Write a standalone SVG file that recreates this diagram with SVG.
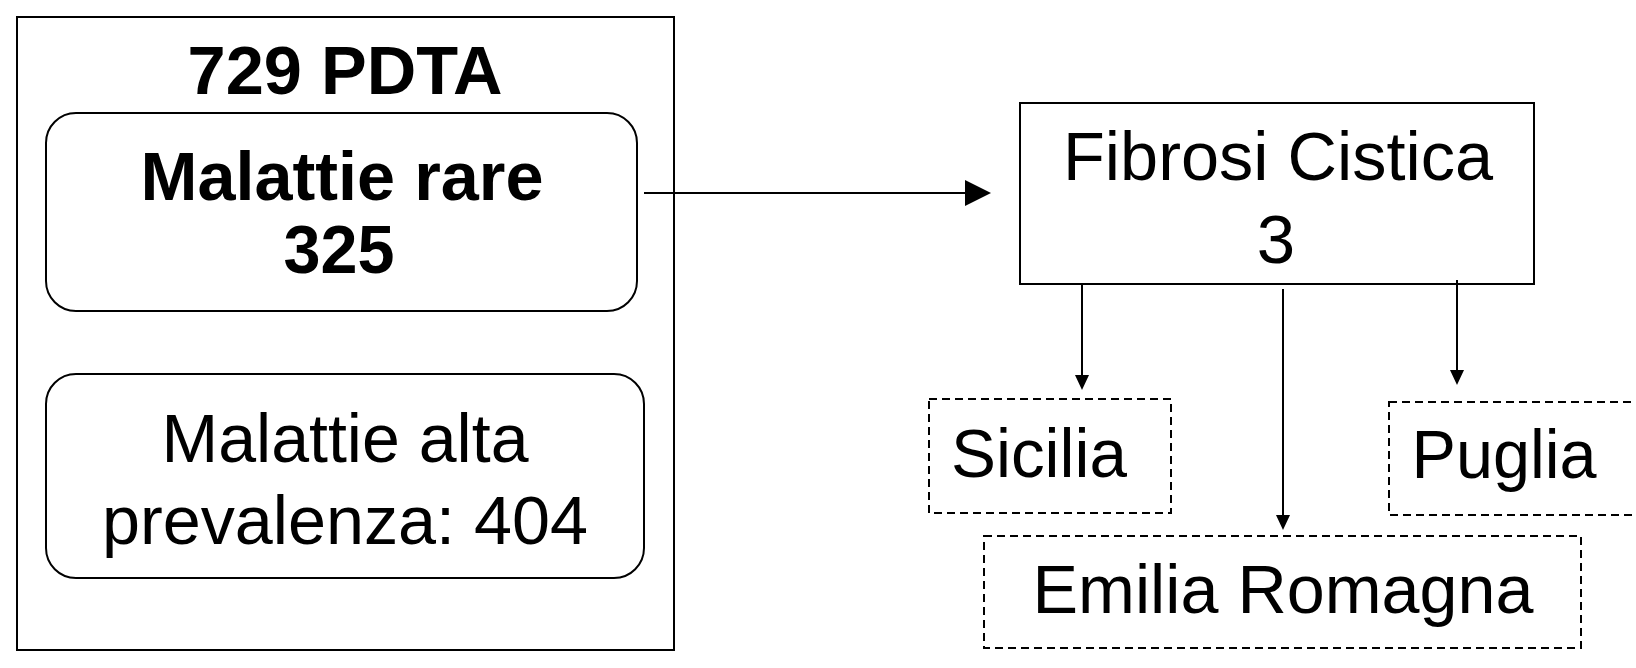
<svg xmlns="http://www.w3.org/2000/svg" width="1636" height="668" viewBox="0 0 1636 668">
<style>
.box{fill:#fff;stroke:#000;stroke-width:2}
.dash{fill:#fff;stroke:#000;stroke-width:2;stroke-dasharray:8 5}
.t{font-family:"Liberation Sans",Arial,sans-serif;font-size:69px;fill:#000;text-anchor:middle}
.b{font-weight:bold}
.ln{stroke:#000;stroke-width:2;fill:none}
</style>
<rect width="1636" height="668" fill="#fff"/>
<g id="pdta">
<rect class="box" x="17" y="17" width="657" height="633"/>
<text class="t b" x="345" y="94" font-size="70" textLength="315" lengthAdjust="spacingAndGlyphs">729 PDTA</text>
</g>
<g id="rare">
<rect class="box" x="46" y="113" width="591" height="198" rx="30" ry="30"/>
<text class="t b" x="342" y="200" textLength="403" lengthAdjust="spacingAndGlyphs">Malattie rare</text>
<text class="t b" x="339" y="273" textLength="111" lengthAdjust="spacingAndGlyphs">325</text>
</g>
<g id="alta">
<rect class="box" x="46" y="374" width="598" height="204" rx="30" ry="30"/>
<text class="t" x="345" y="462" textLength="367" lengthAdjust="spacingAndGlyphs">Malattie alta</text>
<text class="t" x="345" y="544" textLength="486" lengthAdjust="spacingAndGlyphs">prevalenza: 404</text>
</g>
<g id="fibrosi">
<rect class="box" x="1020" y="103" width="514" height="181"/>
<text class="t" x="1278" y="180" textLength="430" lengthAdjust="spacingAndGlyphs">Fibrosi Cistica</text>
<text class="t" x="1276" y="263">3</text>
</g>
<g id="sicilia">
<rect class="dash" x="929" y="399" width="242" height="114"/>
<text class="t" x="1039" y="477" textLength="176" lengthAdjust="spacingAndGlyphs">Sicilia</text>
</g>
<g id="puglia">
<rect class="dash" x="1389" y="402" width="260" height="113"/>
<text class="t" x="1504" y="478" textLength="185" lengthAdjust="spacingAndGlyphs">Puglia</text>
</g>
<g id="emilia">
<rect class="dash" x="984" y="536" width="597" height="112"/>
<text class="t" x="1283" y="613" textLength="501" lengthAdjust="spacingAndGlyphs">Emilia Romagna</text>
</g>
<g id="connectors">
<line class="ln" x1="644" y1="193" x2="967" y2="193"/>
<polygon points="965,180 991,193 965,206" fill="#000"/>
<line class="ln" x1="1082" y1="284" x2="1082" y2="376"/>
<polygon points="1075,375 1082,390 1089,375" fill="#000"/>
<line class="ln" x1="1283" y1="289" x2="1283" y2="516"/>
<polygon points="1276,515 1283,530 1290,515" fill="#000"/>
<line class="ln" x1="1457" y1="280" x2="1457" y2="371"/>
<polygon points="1450,370 1457,385 1464,370" fill="#000"/>
</g>
</svg>
